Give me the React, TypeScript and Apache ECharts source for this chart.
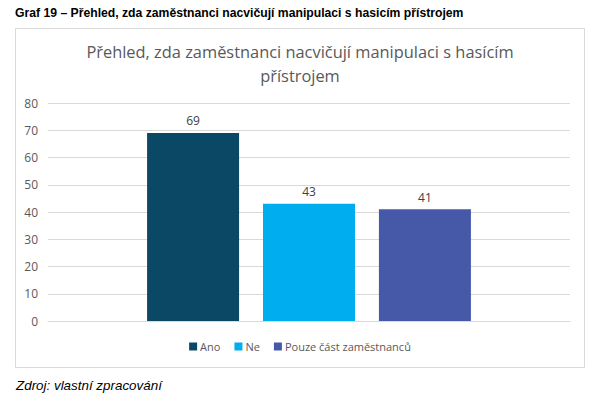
import React, { useEffect, useRef } from "react";
import * as echarts from "echarts";

const categories = ["Přehled"];
const seriesNames = ["Ano", "Ne", "Pouze část zaměstnanců"];
const anoValues = [69];
const neValues = [43];
const pouzeValues = [41];
const yTicks = { min: 0, max: 80, interval: 10 };

const headerText = "Graf 19 – Přehled, zda zaměstnanci nacvičují manipulaci s hasicím přístrojem";
const chartTitle = "Přehled, zda zaměstnanci nacvičují manipulaci s hasícím\npřístrojem";
const footerText = "Zdroj: vlastní zpracování";

const colors = ["#0B4866", "#00ADEE", "#4658A8"];

export default function App() {
  const ref = useRef<HTMLDivElement>(null);
  useEffect(() => {
    if (!ref.current) return;
    const chart = echarts.init(ref.current, null, { renderer: "svg" });
    const labelStyle = {
      show: true,
      position: "top" as const,
      distance: 6,
      color: "#404040",
      fontSize: 12,
      fontFamily: "'Open Sans', 'Noto Sans', sans-serif",
    };
    const data = [anoValues, neValues, pouzeValues];
    chart.setOption({
      animation: false,
      backgroundColor: "#ffffff",
      color: colors,
      graphic: [
        {
          type: "rect",
          z: -10,
          shape: { x: 15.5, y: 28.5, width: 569, height: 339 },
          style: { fill: "#ffffff", stroke: "#d9d9d9", lineWidth: 1 },
        },
        {
          type: "text",
          left: 15,
          top: 7,
          style: {
            text: headerText,
            font: "bold 12.2px 'Liberation Sans', Arial, sans-serif",
            fill: "#000000",
          },
        },
        {
          type: "text",
          left: 16,
          top: 379,
          style: {
            text: footerText,
            font: "italic 13.4px 'Liberation Sans', Arial, sans-serif",
            fill: "#000000",
          },
        },
      ],
      title: {
        text: chartTitle,
        left: "center",
        top: 34,
        textStyle: {
          color: "#595959",
          fontSize: 16.4,
          fontWeight: "normal",
          lineHeight: 24,
          fontFamily: "'Open Sans', 'Noto Sans', sans-serif",
        },
      },
      legend: {
        bottom: 43,
        left: "center",
        itemWidth: 8,
        itemHeight: 8,
        itemGap: 14,
        icon: "rect",
        textStyle: {
          color: "#595959",
          fontSize: 11,
          fontFamily: "'Open Sans', 'Noto Sans', sans-serif",
          padding: [0, 0, 0, -2],
        },
        data: seriesNames,
      },
      grid: { left: 48, right: 30, top: 103, bottom: 79, containLabel: false },
      xAxis: {
        type: "category",
        data: categories,
        axisLine: { show: true, lineStyle: { color: "#d9d9d9" } },
        axisTick: { show: false },
        axisLabel: { show: false },
      },
      yAxis: {
        type: "value",
        min: yTicks.min,
        max: yTicks.max,
        interval: yTicks.interval,
        axisLine: { show: false },
        axisTick: { show: false },
        splitLine: { lineStyle: { color: "#d9d9d9" } },
        axisLabel: {
          color: "#595959",
          fontSize: 12,
          margin: 10,
          fontFamily: "'Open Sans', 'Noto Sans', sans-serif",
        },
      },
      series: seriesNames.map((name, i) => ({
        name,
        type: "bar",
        data: data[i],
        barWidth: 92,
        barGap: "26%",
        label: labelStyle,
        itemStyle: { color: colors[i] },
      })),
    });
    return () => chart.dispose();
  }, []);
  return (
    <div
      ref={ref}
      style={{ position: "absolute", left: 0, top: 0, width: 600, height: 400 }}
    />
  );
}
